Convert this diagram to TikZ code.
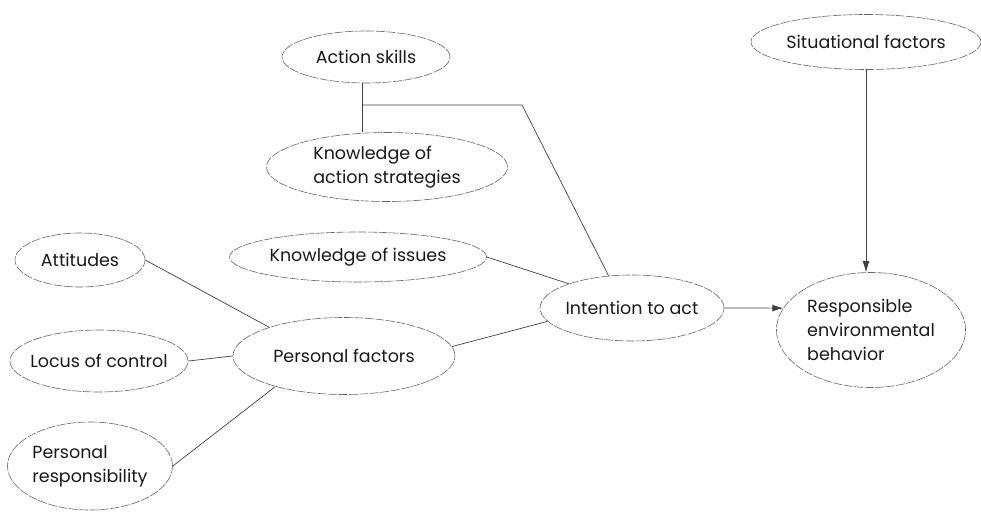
\documentclass[tikz,border=0pt]{standalone}
\usepackage{fontspec}
\setmainfont{Poppins}
\usetikzlibrary{shapes.geometric,arrows.meta}
\newcommand{\zwtext}[1]{\makebox[0pt][c]{#1}}
\begin{document}
\begin{tikzpicture}[x=1pt,y=-1pt,
  oval/.style={ellipse, draw=black!60, line width=0.6pt, dash pattern=on 9pt off 1.5pt,
    inner sep=0pt, font=\fontsize{17.5}{24}\selectfont, text=black!90, align=left},
  link/.style={draw=black!75, line width=0.7pt},
  arr/.style={link, -{Latex[length=11pt,width=7pt]}}]
\useasboundingbox (0,0) rectangle (981,511);
\node[oval, minimum width=168pt, minimum height=52pt] (as) at (366,57) {\zwtext{Action skills}};
\node[oval, minimum width=241pt, minimum height=69pt] (kas) at (387,167) {Knowledge of\\action strategies};
\node[oval, minimum width=257pt, minimum height=50pt] (ki) at (358,257) {\zwtext{Knowledge of issues}};
\node[oval, minimum width=184pt, minimum height=66pt] (ia) at (632,308) {\zwtext{Intention to act}};
\node[oval, minimum width=189pt, minimum height=115pt] (reb) at (871,330) {Responsible\\environmental\\behavior};
\node[oval, minimum width=230pt, minimum height=55pt] (sf) at (866,42) {\zwtext{Situational factors}};
\node[oval, minimum width=222pt, minimum height=77pt] (pf) at (344,356) {\zwtext{Personal factors}};
\node[oval, minimum width=130pt, minimum height=54pt] (att) at (80,260) {\zwtext{Attitudes}};
\node[oval, minimum width=178pt, minimum height=62pt] (loc) at (99,361) {\zwtext{Locus of control}};
\node[oval, minimum width=165pt, minimum height=88pt] (pr) at (90,466) {Personal\\responsibility};
\coordinate (j) at (362,105);
\coordinate (k) at (522,105);
\draw[link] (j |- as.south) -- (j |- kas.north);
\draw[link] (j) -- (k) -- (ia.126);
\draw[link] (ki.east) -- (ia.159);
\draw[link] (att.east) -- (pf.159);
\draw[link] (loc.east) -- (pf.west);
\draw[link] (pr.east) -- (pf.204);
\draw[link] (pf.5) -- (ia.189);
\draw[arr] (ia.east) -- (reb.166);
\draw[arr] (sf.south) -- (sf.south |- reb.north);
\end{tikzpicture}
\end{document}
